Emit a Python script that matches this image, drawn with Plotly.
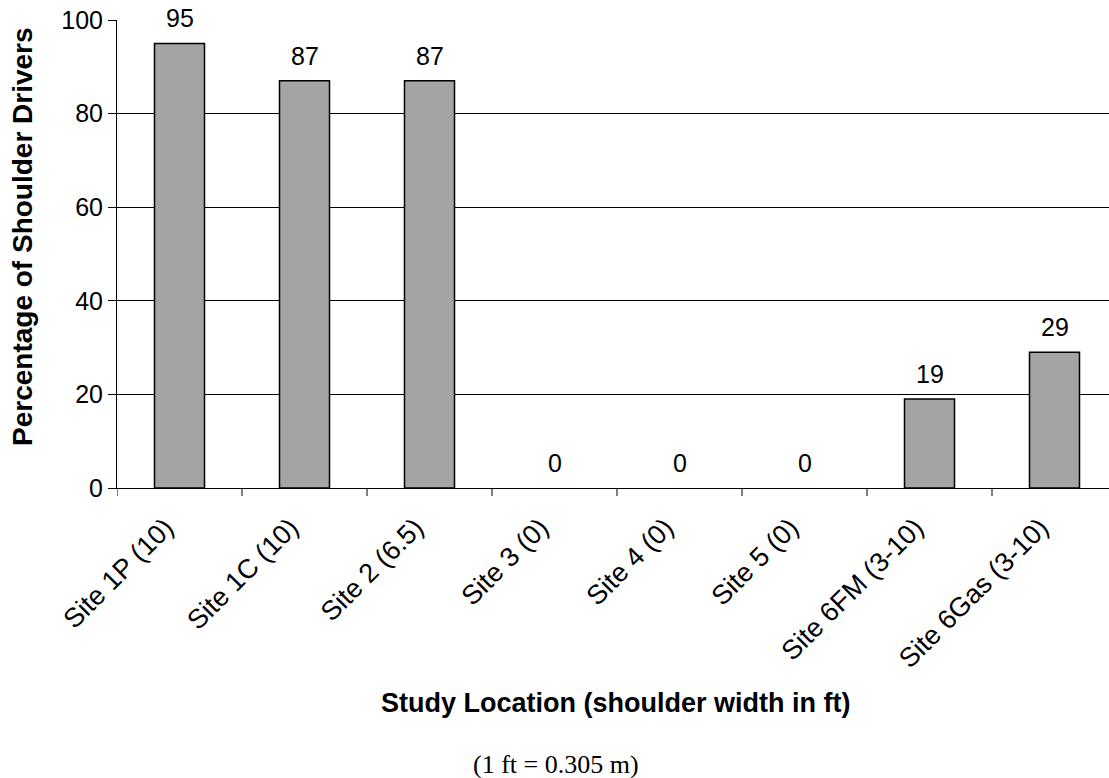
import plotly.graph_objects as go

# Study sites (shoulder width in ft) and share of drivers using the shoulder
sites = [
    "Site 1P (10)", "Site 1C (10)", "Site 2 (6.5)", "Site 3 (0)",
    "Site 4 (0)", "Site 5 (0)", "Site 6FM (3-10)", "Site 6Gas (3-10)",
]
pct_shoulder = [95, 87, 87, 0, 0, 0, 19, 29]
y_ticks = [0, 20, 40, 60, 80, 100]

W, H = 1109, 778
L, T, B = 117, 20, 290          # margins in px
plot_w = W - L
plot_h = H - T - B
cat_px = 125                     # pixel width of one category slot


def px_to_paper(xp, yp):
    return (xp - L) / plot_w, (H - B - yp) / plot_h


FONT = "Liberation Sans, Arial, sans-serif"

fig = go.Figure(
    go.Bar(
        x=list(range(len(sites))),
        y=pct_shoulder,
        width=0.4,
        marker=dict(
            color="#A4A4A4",
            line=dict(color="#000000",
                      width=[1.5 if v > 0 else 0 for v in pct_shoulder]),
        ),
        hoverinfo="x+y",
    )
)

# value labels above bars
for i, v in enumerate(pct_shoulder):
    fig.add_annotation(
        x=i, y=v, text=str(v), showarrow=False, yanchor="middle", yshift=25,
        font=dict(family=FONT, size=25, color="#000000"),
    )

fig.update_xaxes(
    range=[-0.5, -0.5 + plot_w / cat_px],
    tickmode="array",
    tickvals=list(range(len(sites))),
    ticktext=sites,
    tickangle=-45,
    tickfont=dict(family=FONT, size=27, color="#000000"),
    ticklabelstandoff=12,
    ticklabelshift=-14,
    showgrid=False,
    showline=True, linecolor="#000000", linewidth=1,
    ticks="", zeroline=False,
)

fig.update_yaxes(
    range=[0, 100],
    tickmode="array",
    tickvals=y_ticks,
    tickfont=dict(family=FONT, size=25, color="#000000"),
    showgrid=True, gridcolor="#000000", gridwidth=1,
    showline=True, linecolor="#000000", linewidth=1,
    ticks="outside", ticklen=8, tickcolor="#000000", tickwidth=1,
    zeroline=False,
)

# category boundary tick marks below the axis
for k in range(len(sites) + 1):
    fig.add_shape(
        type="line", xref="x", yref="paper",
        x0=k - 0.5, x1=k - 0.5, y0=0, y1=-8 / plot_h,
        line=dict(color="#000000", width=1),
    )

# axis titles and unit note
ax, ay = px_to_paper(615.5, 703)
fig.add_annotation(
    xref="paper", yref="paper", x=ax, y=ay, showarrow=False,
    text="<b>Study Location (shoulder width in ft)</b>",
    font=dict(family=FONT, size=27, color="#000000"),
    xanchor="center", yanchor="middle",
)
tx, ty = px_to_paper(22, 237)
fig.add_annotation(
    xref="paper", yref="paper", x=tx, y=ty, showarrow=False, textangle=-90,
    text="<b>Percentage of Shoulder Drivers</b>",
    font=dict(family=FONT, size=28, color="#000000"),
    xanchor="center", yanchor="middle",
)
nx, ny = px_to_paper(556, 764)
fig.add_annotation(
    xref="paper", yref="paper", x=nx, y=ny, showarrow=False,
    text="(1 ft = 0.305 m)",
    font=dict(family="Liberation Serif, Times New Roman, serif", size=26, color="#000000"),
    xanchor="center", yanchor="middle",
)

fig.update_layout(
    width=W, height=H,
    margin=dict(l=L, r=0, t=T, b=B, pad=0),
    plot_bgcolor="#FFFFFF", paper_bgcolor="#FFFFFF",
    showlegend=False,
    bargap=0.6,
)

fig.write_html("out.html")
